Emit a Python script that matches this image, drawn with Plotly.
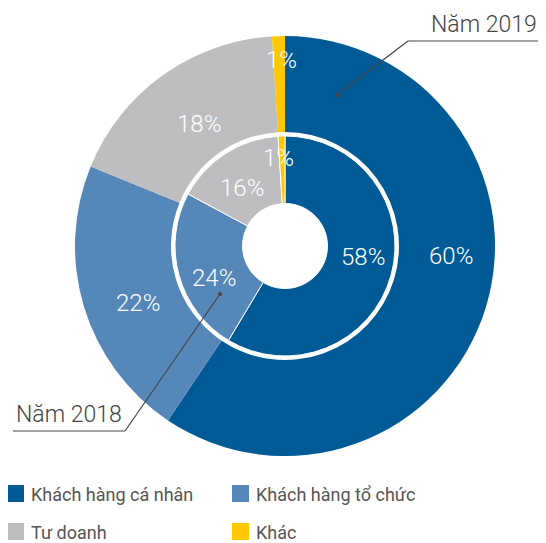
import plotly.graph_objects as go

# page body has an 8px default margin, so the figure is 8px smaller and all
# reference pixel positions are shifted by that offset
OFF = 8
W, H = 546 - OFF, 543 - OFF

categories = ["Khách hàng cá nhân", "Khách hàng tổ chức", "Tư doanh", "Khác"]
colors = ["#005A96", "#5587B8", "#BEBEC0", "#FFC800"]
values_2019 = [60, 22, 18, 1]
values_2018 = [58, 24, 16, 1]
labels_2019 = ["60%", "22%", "18%", "1%"]
labels_2018 = ["58%", "24%", "16%", "1%"]

# geometry (reference pixels)
cx, cy = 285, 246
r_out, r_out_hole = 210, 114
r_in, r_in_hole = 110, 42.5


def px(x):
    return (x - OFF) / W


def py(y):
    return 1 - (y - OFF) / H


def domain(r):
    return dict(x=[px(cx - r), px(cx + r)], y=[py(cy + r), py(cy - r)])


fig = go.Figure()
fig.add_trace(go.Pie(
    labels=categories, values=values_2019, sort=False, direction="clockwise",
    rotation=0, hole=r_out_hole / r_out, domain=domain(r_out),
    marker=dict(colors=colors, line=dict(width=0)),
    textinfo="none", hoverinfo="skip", showlegend=False,
))
fig.add_trace(go.Pie(
    labels=categories, values=values_2018, sort=False, direction="clockwise",
    rotation=0, hole=r_in_hole / r_in, domain=domain(r_in),
    marker=dict(colors=colors, line=dict(width=1, color="white")),
    textinfo="none", hoverinfo="skip", showlegend=False,
))

font_fam = "Roboto, Inter, sans-serif"
annotations = []
shapes = []

# slice labels (pixel anchors)
pos_2019 = [(451, 256), (138, 303), (199, 124), (281, 60)]
pos_2018 = [(363, 257), (214, 278), (242, 188), (278, 158)]
for txt, (x, y) in zip(labels_2019 + labels_2018, pos_2019 + pos_2018):
    annotations.append(dict(x=px(x), y=py(y), xref="paper", yref="paper",
                            text=txt, showarrow=False, xanchor="center", yanchor="middle",
                            font=dict(family=font_fam, size=24, color="white", weight=300)))

# callouts
line_col = "#444444"
annotations.append(dict(x=px(539), y=py(40), xref="paper", yref="paper", text="Năm 2019",
                        showarrow=False, xanchor="right", yanchor="bottom",
                        font=dict(family=font_fam, size=23, color="#444444", weight=300)))
shapes.append(dict(type="line", xref="paper", yref="paper", x0=px(408), y0=py(41), x1=px(539), y1=py(41),
                   line=dict(color=line_col, width=1.2)))
shapes.append(dict(type="line", xref="paper", yref="paper", x0=px(408), y0=py(41), x1=px(337), y1=py(95),
                   line=dict(color=line_col, width=1.2)))
shapes.append(dict(type="circle", xref="paper", yref="paper", x0=px(335), y0=py(93), x1=px(339), y1=py(97),
                   fillcolor=line_col, line=dict(width=0)))

annotations.append(dict(x=px(14), y=py(430), xref="paper", yref="paper", text="Năm 2018",
                        showarrow=False, xanchor="left", yanchor="bottom",
                        font=dict(family=font_fam, size=23, color="#444444", weight=300)))
shapes.append(dict(type="line", xref="paper", yref="paper", x0=px(13), y0=py(431), x1=px(125), y1=py(431),
                   line=dict(color=line_col, width=1.2)))
shapes.append(dict(type="line", xref="paper", yref="paper", x0=px(125), y0=py(431), x1=px(220), y1=py(294),
                   line=dict(color=line_col, width=1.2)))
shapes.append(dict(type="circle", xref="paper", yref="paper", x0=px(218), y0=py(292), x1=px(222), y1=py(296),
                   fillcolor=line_col, line=dict(width=0)))

# legend (custom, 2 columns)
leg_pos = [(7, 485), (232, 485), (7, 523), (232, 523)]
for cat, col, (x, y) in zip(categories, colors, leg_pos):
    shapes.append(dict(type="rect", xref="paper", yref="paper", x0=px(x), y0=py(y + 17), x1=px(x + 17), y1=py(y),
                       fillcolor=col, line=dict(width=0)))
    annotations.append(dict(x=px(x + 22), y=py(y + 9), xref="paper", yref="paper", text=cat,
                            showarrow=False, xanchor="left", yanchor="middle",
                            font=dict(family=font_fam, size=18, color="#555555", weight=400)))

fig.update_layout(
    width=W, height=H, margin=dict(l=0, r=0, t=0, b=0),
    paper_bgcolor="white", plot_bgcolor="white",
    annotations=annotations, shapes=shapes, showlegend=False,
)

fig.write_html("out.html")
